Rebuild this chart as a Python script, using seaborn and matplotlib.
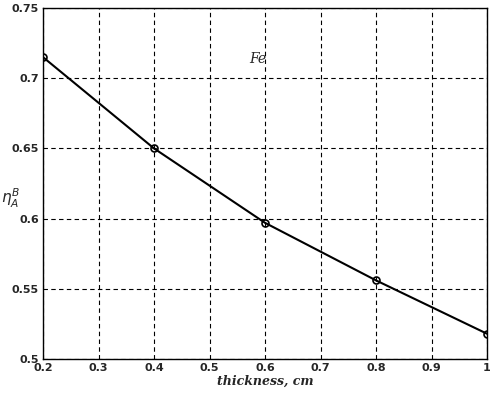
import matplotlib
matplotlib.use("Agg")
import matplotlib.pyplot as plt
import seaborn as sns
import pandas as pd

thickness = [0.2, 0.4, 0.6, 0.8, 1.0]
eta = [0.715, 0.650, 0.597, 0.556, 0.518]
x_ticks = [0.2, 0.3, 0.4, 0.5, 0.6, 0.7, 0.8, 0.9, 1.0]
x_tick_labels = ["0.2", "0.3", "0.4", "0.5", "0.6", "0.7", "0.8", "0.9", "1"]
y_ticks = [0.5, 0.55, 0.6, 0.65, 0.7, 0.75]
y_tick_labels = ["0.5", "0.55", "0.6", "0.65", "0.7", "0.75"]

sns.set_style("white")
plt.rcParams['font.family'] = ['DejaVu Sans']

df = pd.DataFrame({"thickness": thickness, "eta": eta})

fig = plt.figure(figsize=(4.96, 3.93), dpi=100)
ax = fig.add_axes([43/496, 1 - 359/393, 444/496, 351/393])
sns.lineplot(data=df, x="thickness", y="eta", ax=ax, color="black", linewidth=1.5,
             marker="o", markersize=5, markerfacecolor="none", markeredgecolor="black",
             markeredgewidth=1.2)
ax.set_xlim(0.2, 1.0)
ax.set_ylim(0.5, 0.75)
ax.set_xticks(x_ticks)
ax.set_xticklabels(x_tick_labels, fontsize=8, fontweight="bold")
ax.set_yticks(y_ticks)
ax.set_yticklabels(y_tick_labels, fontsize=8, fontweight="bold")
ax.tick_params(direction="in", length=3, color="black", pad=3)
ax.grid(True, linestyle=(0, (4, 3)), color="black", linewidth=0.8)
for s in ax.spines.values():
    s.set_color("black")
    s.set_linewidth(1.0)
ax.set_xlabel("thickness, cm", fontsize=9, fontstyle="italic", fontweight="bold",
              family="DejaVu Serif", labelpad=1)
ax.set_ylabel("")
fig.text(1/496, 1 - 198/393, r"$\eta_A^B$", fontsize=11, ha="left", va="center")
ax.text(0.587, 0.714, "Fe", fontsize=10, fontstyle="italic", family="DejaVu Serif",
        ha="center", va="center")
fig.savefig("out.png", dpi=100)
